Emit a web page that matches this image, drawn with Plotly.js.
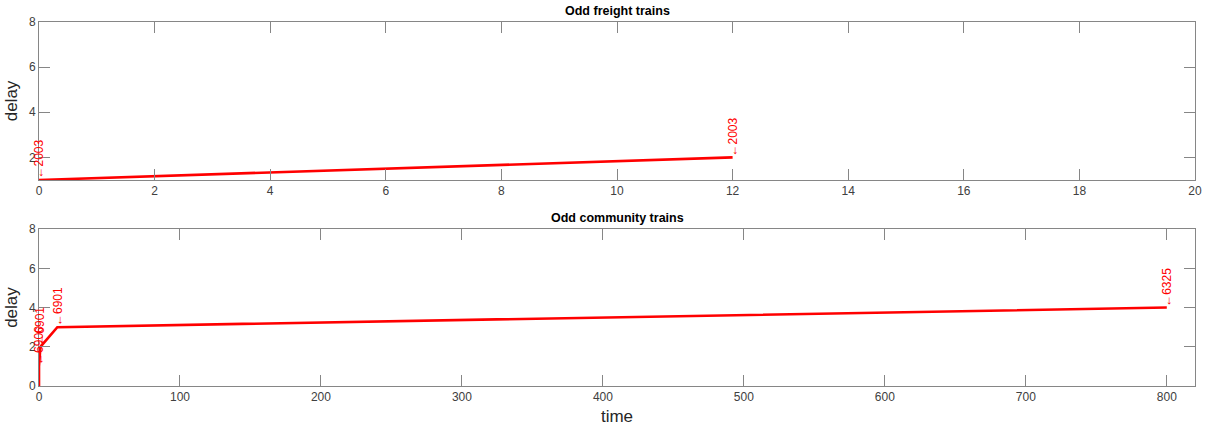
<!DOCTYPE html>
<html>
<head>
<meta charset="utf-8">
<script src="https://cdn.plot.ly/plotly-3.0.1.min.js"></script>
<style>
  html, body { margin: 0; padding: 0; background: #fff; }
  #chart { width: 1210px; height: 432px; }
</style>
</head>
<body>
<div id="chart"></div>
<script>
// Odd freight trains: time vs delay, each point tagged with its train number
const freightTime = [0, 12];
const freightDelay = [1, 2];
const freightTrain = ['2003', '2003'];

// Odd community trains
const communityTime = [0, 0, 1, 13, 800];
const communityDelay = [0, 1, 2, 3, 4];
const communityTrain = ['', '6900', '6901', '6901', '6325'];

const freightTicks = [0, 2, 4, 6, 8, 10, 12, 14, 16, 18, 20];
const communityTicks = [0, 100, 200, 300, 400, 500, 600, 700, 800];
const freightDelayTicks = [2, 4, 6, 8];
const communityDelayTicks = [0, 2, 4, 6, 8];

const FONT = 'Liberation Sans, Arial, Helvetica, sans-serif';
const AXIS_COLOR = '#868686';
const TICK_TEXT = '#404040';
const RED = '#ff0000';

function axisStyle(extra) {
  return Object.assign({
    showgrid: false,
    zeroline: false,
    showline: true,
    linecolor: AXIS_COLOR,
    linewidth: 1,
    mirror: 'ticks',
    ticks: 'inside',
    ticklen: 11,
    tickwidth: 1,
    tickcolor: AXIS_COLOR,
    tickfont: { family: FONT, size: 12, color: TICK_TEXT },
    tickmode: 'array',
    fixedrange: true
  }, extra);
}

// Rotated "← number" tags that start at each point and read upward
function tags(xs, ys, labels, xref, yref) {
  const out = [];
  labels.forEach((lab, i) => {
    if (!lab) return;
    out.push({
      x: xs[i], y: ys[i], xref: xref, yref: yref,
      text: '\u2190' + lab,
      showarrow: false,
      textangle: -90,
      xanchor: 'center',
      yanchor: 'bottom',
      borderpad: 0,
      font: { family: FONT, size: 12, color: RED }
    });
  });
  return out;
}

const traces = [
  {
    x: freightTime, y: freightDelay, xaxis: 'x', yaxis: 'y',
    type: 'scatter', mode: 'lines',
    line: { color: RED, width: 2.6 },
    hoverinfo: 'skip'
  },
  {
    x: communityTime, y: communityDelay, xaxis: 'x2', yaxis: 'y2',
    type: 'scatter', mode: 'lines',
    line: { color: RED, width: 2.6 },
    hoverinfo: 'skip'
  }
];

const titleFont = { family: FONT, size: 12.5, color: '#000000' };

const layout = {
  width: 1210,
  height: 432,
  margin: { l: 39, r: 15, t: 22, b: 46 },
  paper_bgcolor: '#ffffff',
  plot_bgcolor: '#ffffff',
  showlegend: false,
  xaxis: axisStyle({
    domain: [0, 1], anchor: 'y', range: [0, 20],
    tickvals: freightTicks, ticktext: freightTicks.map(String)
  }),
  yaxis: axisStyle({
    domain: [0.566, 1], anchor: 'x', range: [1, 8],
    tickvals: freightDelayTicks, ticktext: freightDelayTicks.map(String),
    title: { text: 'delay', font: { family: FONT, size: 17, color: '#262626' }, standoff: 6 }
  }),
  xaxis2: axisStyle({
    domain: [0, 1], anchor: 'y2', range: [0, 820],
    tickvals: communityTicks, ticktext: communityTicks.map(String),
    title: { text: 'time', font: { family: FONT, size: 17, color: '#262626' }, standoff: 6 }
  }),
  yaxis2: axisStyle({
    domain: [0, 0.431], anchor: 'x2', range: [0, 8],
    tickvals: communityDelayTicks, ticktext: communityDelayTicks.map(String),
    title: { text: 'delay', font: { family: FONT, size: 17, color: '#262626' }, standoff: 6 }
  }),
  annotations: [
    {
      text: '<b>Odd freight trains</b>', xref: 'paper', yref: 'paper',
      x: 0.5, y: 1, yshift: 2, xanchor: 'center', yanchor: 'bottom',
      showarrow: false, font: titleFont
    },
    {
      text: '<b>Odd community trains</b>', xref: 'paper', yref: 'paper',
      x: 0.5, y: 0.431, yshift: 2, xanchor: 'center', yanchor: 'bottom',
      showarrow: false, font: titleFont
    }
  ].concat(
    tags(freightTime, freightDelay, freightTrain, 'x', 'y'),
    tags(communityTime, communityDelay, communityTrain, 'x2', 'y2')
  )
};

Plotly.newPlot('chart', traces, layout, { staticPlot: true, displayModeBar: false });
</script>
</body>
</html>
